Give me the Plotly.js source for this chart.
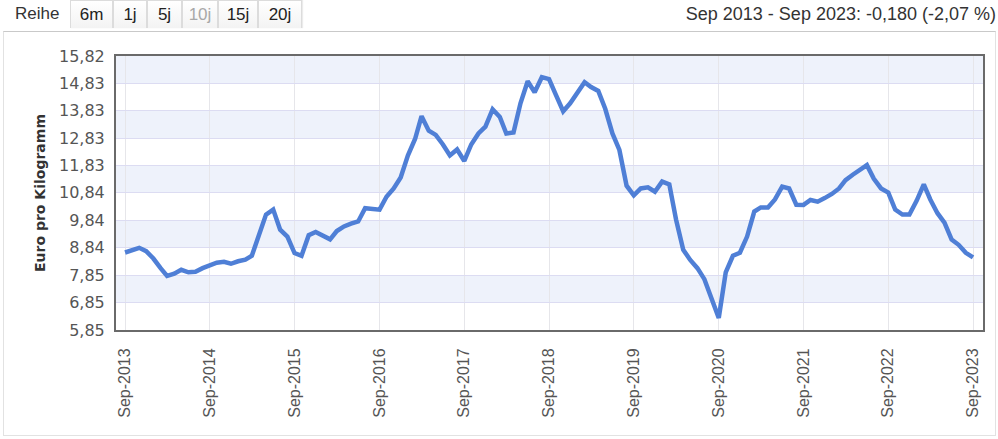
<!DOCTYPE html>
<html>
<head>
<meta charset="utf-8">
<script src="https://cdn.plot.ly/plotly-3.0.1.min.js"></script>
<style>
  html, body { margin:0; padding:0; background:#fff; }
  #wrap { position:relative; width:998px; height:439px; overflow:hidden; background:#fff; font-family:"Liberation Sans", Arial, sans-serif; }
  #frame { position:absolute; left:3px; top:31px; width:991px; height:403px; border:1px solid #e2e2e2; border-top:1px solid #c9c9c9; }
  #chart { position:absolute; left:0; top:0; width:998px; height:439px; }
  .lbl { position:absolute; top:4px; font-size:17px; color:#333; }
  .btn { position:absolute; top:0px; height:28px; line-height:28px; text-align:center; font-size:17px; color:#222;
         border:1px solid #dcdcdc; border-bottom:none; box-sizing:border-box;
         background:linear-gradient(#ffffff,#f3f3f3); box-shadow:1px 0 1px rgba(0,0,0,0.08); }
  .btn.dis { color:#a8a8a8; }
  #range { position:absolute; right:2px; top:4px; font-size:18px; color:#333; white-space:nowrap; }
</style>
</head>
<body>
<div id="wrap">
  <div id="frame"></div>
  <div id="chart"></div>
  <div id="toolbar"></div>
  <div id="range"></div>
</div>
<script>
// ---- data ----
const seriesName = "Euro pro Kilogramm";
const startYear = 2013;
const startMonth = 9;
const values = [
  8.67, 8.76, 8.84, 8.72, 8.45, 8.10, 7.82, 7.90, 8.04, 7.95, 7.97, 8.10,
  8.22, 8.30, 8.33, 8.26, 8.35, 8.41, 8.55, 9.30, 10.05, 10.23, 9.50, 9.25,
  8.65, 8.55, 9.30, 9.42, 9.30, 9.15, 9.45, 9.62, 9.72, 9.80, 10.28, 10.25,
  10.23, 10.70, 11.00, 11.40, 12.20, 12.80, 13.63, 13.10, 12.95, 12.60, 12.20, 12.42,
  12.00, 12.60, 13.00, 13.25, 13.88, 13.60, 13.00, 13.04, 14.10, 14.90, 14.50, 15.05,
  14.98, 14.40, 13.81, 14.10, 14.50, 14.87, 14.69, 14.55, 13.90, 13.00, 12.40, 11.10,
  10.75, 11.00, 11.04, 10.88, 11.25, 11.15, 9.87, 8.77, 8.40, 8.10, 7.70, 6.95,
  6.29, 7.95, 8.55, 8.66, 9.25, 10.16, 10.31, 10.31, 10.60, 11.07, 11.00, 10.41,
  10.40, 10.58, 10.52, 10.65, 10.80, 11.00, 11.30, 11.50, 11.65, 11.85, 11.35, 11.00,
  10.85, 10.23, 10.05, 10.05, 10.55, 11.15, 10.60, 10.10, 9.76, 9.14, 8.95, 8.66,
  8.49
];
const yTickVals = [5.85, 6.85, 7.85, 8.84, 9.84, 10.84, 11.83, 12.83, 13.83, 14.83, 15.82];
const yTickText = ["5,85", "6,85", "7,85", "8,84", "9,84", "10,84", "11,83", "12,83", "13,83", "14,83", "15,82"];
const xTickVals = ["2013-09-01","2014-09-01","2015-09-01","2016-09-01","2017-09-01","2018-09-01",
                   "2019-09-01","2020-09-01","2021-09-01","2022-09-01","2023-09-01"];
const xTickText = ["Sep-2013","Sep-2014","Sep-2015","Sep-2016","Sep-2017","Sep-2018",
                   "Sep-2019","Sep-2020","Sep-2021","Sep-2022","Sep-2023"];
const rangeLabel = "Reihe";
const buttons = ["6m", "1j", "5j", "10j", "15j", "20j"];
const activeButton = "10j";
const summaryText = "Sep 2013 - Sep 2023: -0,180 (-2,07 %)";

// ---- dates for the monthly series ----
const dates = [];
for (let i = 0; i < values.length; i++) {
  const m = startMonth - 1 + i;
  const y = startYear + Math.floor(m / 12);
  const mm = (m % 12) + 1;
  dates.push(y + "-" + String(mm).padStart(2, "0") + "-01");
}

// ---- toolbar (html) ----
const tb = document.getElementById("toolbar");
const lab = document.createElement("div");
lab.className = "lbl"; lab.style.left = "15px"; lab.textContent = rangeLabel;
tb.appendChild(lab);
const btnLeft = [70, 113, 147, 182, 218, 258];
const btnWidth = [43, 34, 35, 36, 40, 44];
buttons.forEach((b, i) => {
  const d = document.createElement("div");
  d.className = "btn" + (b === activeButton ? " dis" : "");
  d.style.left = btnLeft[i] + "px";
  d.style.width = btnWidth[i] + "px";
  d.textContent = b;
  tb.appendChild(d);
});
document.getElementById("range").textContent = summaryText;

// ---- bands ----
const shapes = [];
for (let i = yTickVals.length - 1; i > 0; i -= 2) {
  shapes.push({
    type: "rect", xref: "paper", yref: "y", x0: 0, x1: 1,
    y0: yTickVals[i - 1], y1: yTickVals[i],
    fillcolor: "#eef2fb", line: { width: 0 }, layer: "below"
  });
}

const trace = {
  x: dates, y: values, type: "scatter", mode: "lines", name: seriesName,
  line: { color: "#4f7fd6", width: 4.5 }, hoverinfo: "x+y"
};

const layout = {
  width: 998, height: 439,
  margin: { l: 116, r: 15, t: 56, b: 109 },
  paper_bgcolor: "rgba(0,0,0,0)", plot_bgcolor: "#ffffff",
  showlegend: false,
  shapes: shapes,
  xaxis: {
    type: "date",
    range: ["2013-07-24", "2023-10-14"],
    tickmode: "array", tickvals: xTickVals, ticktext: xTickText,
    tickangle: -90,
    tickfont: { family: "Liberation Sans, Arial, sans-serif", size: 16, color: "#555" },
    ticklabelstandoff: 10,
    showgrid: true, gridcolor: "#e6e6ea", gridwidth: 1,
    showline: true, linecolor: "#6a6a6a", linewidth: 2, mirror: true,
    zeroline: false, ticks: ""
  },
  yaxis: {
    range: [5.85, 15.82],
    tickmode: "array", tickvals: yTickVals, ticktext: yTickText,
    tickfont: { family: "DejaVu Sans, Verdana, sans-serif", size: 16, color: "#555" },
    ticklabelstandoff: 6,
    showgrid: true, gridcolor: "#dcdcf2", gridwidth: 1,
    showline: true, linecolor: "#6a6a6a", linewidth: 2, mirror: true,
    zeroline: false, ticks: "",
    title: { text: seriesName, standoff: 10,
             font: { family: "DejaVu Sans, Verdana, sans-serif", size: 14, color: "#333", weight: "bold" } }
  }
};

Plotly.newPlot("chart", [trace], layout, { displayModeBar: false, staticPlot: true });
</script>
</body>
</html>
